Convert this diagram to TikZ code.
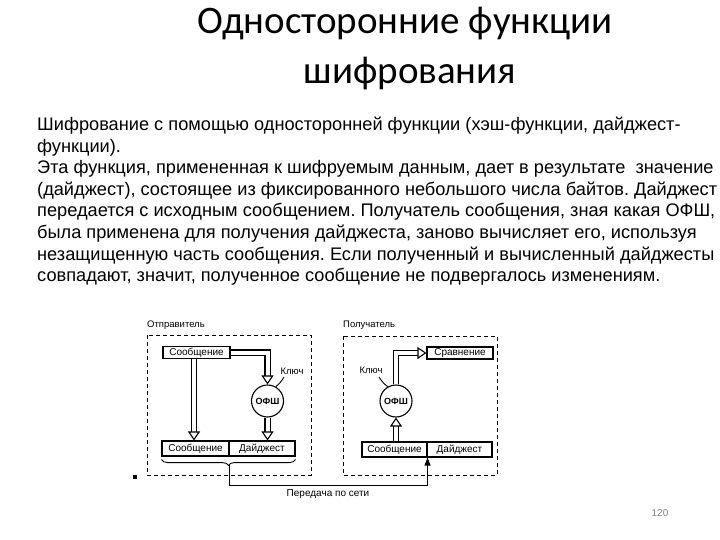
\documentclass[tikz,border=0pt]{standalone}
\usepackage{fontspec}
\setmainfont{Liberation Sans}
\newfontfamily\titlefont{Carlito}
\usetikzlibrary{arrows.meta,decorations.pathreplacing,calc}
\begin{document}
\frenchspacing
\begin{tikzpicture}[x=1pt,y=-1pt,
  bodytext/.style={anchor=base west,inner sep=0pt,font=\fontsize{18.2}{21}\selectfont},
  ttl/.style={anchor=base,inner sep=0pt,font=\titlefont\fontsize{39}{46}\selectfont},
  lbl/.style={inner sep=0pt,font=\fontsize{9.5}{11}\selectfont},
  boxnode/.style={draw,line width=1.1pt,inner sep=0pt,minimum height=12pt,font=\fontsize{10}{12}\selectfont},
  cell/.style={draw,line width=1.1pt,inner sep=0pt,minimum height=15pt,font=\fontsize{10}{12}\selectfont},
  ofsh/.style={draw,circle,line width=1.1pt,minimum size=32pt,inner sep=0pt,font=\fontsize{9}{11}\selectfont\bfseries},
  dashedframe/.style={draw,line width=1pt,dash pattern=on 4pt off 3pt},
  dbl/.style={double,double distance=4pt,line width=1.1pt,
    -{Triangle[open,length=9pt,width=12pt,line width=1.1pt]}},
  keyline/.style={line width=0.9pt},
  netline/.style={line width=1pt}
]
\useasboundingbox (0,0) rectangle (720,540);
% title
\node[ttl] (title1) at (405,34) {Односторонние функции};
\node[ttl] (title2) at (410,84) {шифрования};
% body text
\node[bodytext] (t1) at (37,131) {Шифрование с помощью односторонней функции (хэш-функции, дайджест-};
\node[bodytext] (t2) at (37,152.5) {функции).};
\node[bodytext] (t3) at (37,174) {Эта функция, примененная к шифруемым данным, дает в результате\ \ значение};
\node[bodytext] (t4) at (37,195.5) {(дайджест), состоящее из фиксированного небольшого числа байтов. Дайджест};
\node[bodytext] (t5) at (37,217) {передается с исходным сообщением. Получатель сообщения, зная какая ОФШ,};
\node[bodytext] (t6) at (37,238.5) {была применена для получения дайджеста, заново вычисляет его, используя};
\node[bodytext] (t7) at (37,260) {незащищенную часть сообщения. Если полученный и вычисленный дайджесты};
\node[bodytext] (t8) at (37,281.5) {совпадают, значит, полученное сообщение не подвергалось изменениям.};
% frames
\draw[dashedframe] (147,335) rectangle (311,475);
\draw[dashedframe] (343,336) rectangle (497,475);
\node[lbl,anchor=west] (snd) at (147,325) {Отправитель};
\node[lbl,anchor=west] (rcv) at (343,325) {Получатель};
\fill (132.5,475) rectangle (136.5,479);
% sender
\node[boxnode,minimum width=67pt] (msg1) at (196.5,352.5) {Сообщение};
\node[ofsh] (of1) at (267.5,401) {ОФШ};
\node[cell,minimum width=67pt] (sm1) at (195.5,448.5) {Сообщение};
\node[cell,minimum width=66pt] (sd1) at (262,448.5) {Дайджест};
\node[lbl] (k1) at (292,371) {Ключ};
\draw[keyline] (284,377) to[bend left=10] (of1.60);
\draw[dbl] ([xshift=-2.5pt]msg1.south) -- ([xshift=-2.5pt]msg1.south |- sm1.north);
\draw[dbl] (msg1.east) -| (of1.north);
\draw[dbl] (of1.south) -- (of1.south |- sd1.north);
% brace
\draw[line width=0.9pt,decorate,decoration={brace,mirror,amplitude=6pt}]
  ([yshift=-3pt]sm1.south west) -- ([yshift=-3pt]sd1.south east);
\coordinate (bt) at (229,465);
% receiver
\node[boxnode,minimum width=66pt] (cmp) at (460,353) {Сравнение};
\node[ofsh] (of2) at (396,401) {ОФШ};
\node[cell,minimum width=65pt] (sm2) at (394.5,449.5) {Сообщение};
\node[cell,minimum width=65pt] (sd2) at (459.5,449.5) {Дайджест};
\node[lbl] (k2) at (371,370) {Ключ};
\draw[keyline] (379,377) to[bend right=10] (of2.120);
\draw[dbl] (of2.south |- sm2.north) -- (of2.south);
\draw[dbl] (of2.north) |- (cmp.west);
% network
\draw[netline,-{Triangle[length=8pt,width=6pt]}] (bt) -- ++(0,20) -| (sm2.south east);
\node[lbl,font=\fontsize{10}{12}\selectfont] (net) at (328,494) {Передача по сети};
% page number
\node[inner sep=0pt,text=gray,font=\fontsize{10}{12}\selectfont] (pg) at (660,513) {120};
\end{tikzpicture}
\end{document}
